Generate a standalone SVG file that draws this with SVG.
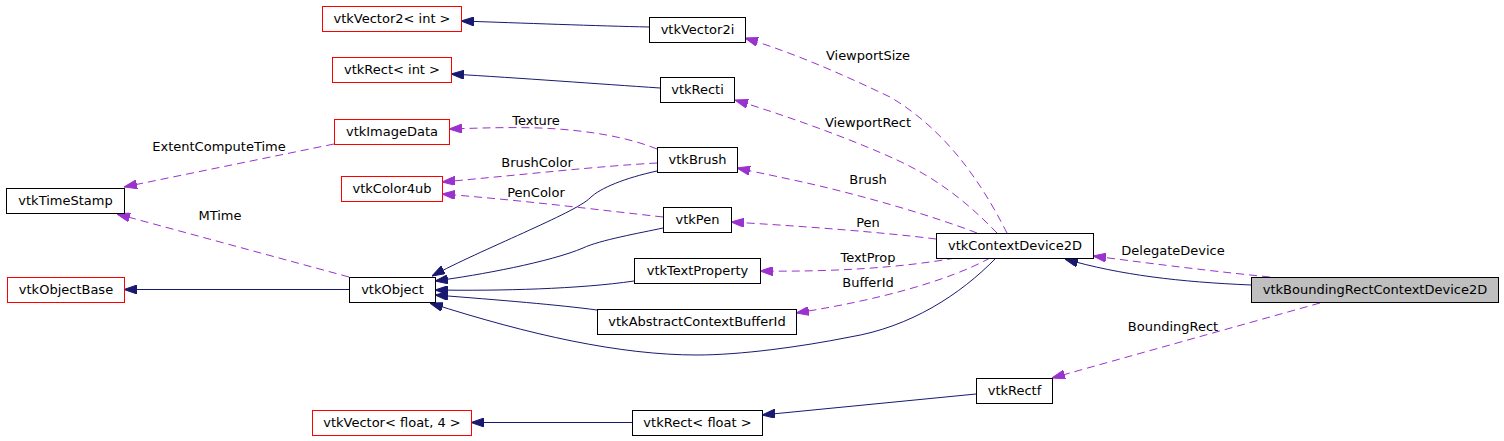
<svg xmlns="http://www.w3.org/2000/svg" width="1504" height="441" viewBox="0 0 1504 441">
<style>
  .node rect { fill: #ffffff; stroke: #000000; stroke-width: 1; }
  .node.ext rect { stroke: #ff0000; }
  .node.cur rect { fill: #bfbfbf; }
  text { font-family: "DejaVu Sans", "Liberation Sans", sans-serif; font-size: 13px; fill: #000000; }
  .node text { text-anchor: middle; }
  .lbl { text-anchor: middle; }
  .inh { fill: none; stroke: #191970; stroke-width: 1; marker-end: url(#ab); }
  .use { fill: none; stroke: #9a32cd; stroke-width: 1; stroke-dasharray: 8,5; marker-end: url(#ap); }
</style>
<defs>
  <marker id="ab" viewBox="0 0 13 9" refX="13" refY="4.5" markerWidth="13" markerHeight="9" markerUnits="userSpaceOnUse" orient="auto">
    <path d="M0,0 L13,4.5 L0,9 z" fill="#191970" stroke="#191970" stroke-width="1"/>
  </marker>
  <marker id="ap" viewBox="0 0 13 9" refX="13" refY="4.5" markerWidth="13" markerHeight="9" markerUnits="userSpaceOnUse" orient="auto">
    <path d="M0,0 L13,4.5 L0,9 z" fill="#9a32cd" stroke="#9a32cd" stroke-width="1"/>
  </marker>
</defs>
<rect x="0" y="0" width="1504" height="441" fill="#ffffff"/>

<g id="connectors">
  <path class="inh" d="M649,27 C600,26 520,23 461,21"/>
  <path class="inh" d="M660,88 C600,84 520,78 451,74"/>
  <path class="inh" d="M349,289.5 L124,289.5"/>
  <path class="inh" d="M657,171 C625,178 600,188 590,198 C575,213 480,250 432,276"/>
  <path class="inh" d="M663,228 C640,233 600,240 583,248 C550,262 480,275 435,281"/>
  <path class="inh" d="M634,281 C580,289 500,291 435,290"/>
  <path class="inh" d="M597,310 C560,305 500,300 435,295"/>
  <path class="inh" d="M996,258 C960,295 910,327 850,337 C800,347 740,355 697,355 C620,355 530,335 430,303"/>
  <path class="inh" d="M1251,285 C1180,282 1120,275 1065,259"/>
  <path class="inh" d="M976,394 L762,415"/>
  <path class="inh" d="M632,422.5 L471,422.5"/>

  <path class="use" d="M657,149 C630,138 590,130 540,128 C510,127 480,128 449,129"/>
  <path class="use" d="M657,163 C600,166 520,175 442,182"/>
  <path class="use" d="M663,217 C600,210 520,200 442,194"/>
  <path class="use" d="M334,144 L124,187"/>
  <path class="use" d="M349,277 L117,214"/>
  <path class="use" d="M1007,233 C990,200 955,135 890,97 C850,78 800,55 745,38"/>
  <path class="use" d="M997,233 C970,205 940,180 897,160 C860,143 800,120 735,100"/>
  <path class="use" d="M977,233 C930,215 870,198 820,186 C790,179 760,173 737,168"/>
  <path class="use" d="M936,239 C880,232 800,226 731,222"/>
  <path class="use" d="M955,258 C900,268 830,272 760,271"/>
  <path class="use" d="M990,258 C950,280 880,300 796,313"/>
  <path class="use" d="M1270,277 C1200,270 1140,262 1093,256"/>
  <path class="use" d="M1320,303 L1052,378"/>

  <text class="lbl" x="536" y="125">Texture</text>
  <text class="lbl" x="537" y="167">BrushColor</text>
  <text class="lbl" x="536" y="197">PenColor</text>
  <text class="lbl" x="219" y="151">ExtentComputeTime</text>
  <text class="lbl" x="220" y="220">MTime</text>
  <text class="lbl" x="868" y="60">ViewportSize</text>
  <text class="lbl" x="868" y="127">ViewportRect</text>
  <text class="lbl" x="868" y="184">Brush</text>
  <text class="lbl" x="868" y="227">Pen</text>
  <text class="lbl" x="868" y="262">TextProp</text>
  <text class="lbl" x="868" y="287">BufferId</text>
  <text class="lbl" x="1173" y="255">DelegateDevice</text>
  <text class="lbl" x="1173" y="331">BoundingRect</text>
</g>

<g id="vtkVector2_int" class="node ext"><rect x="322.5" y="6.5" width="139" height="25"/><text x="392" y="23">vtkVector2&lt; int &gt;</text></g>
<g id="vtkRect_int" class="node ext"><rect x="332.5" y="57.5" width="119" height="25"/><text x="392" y="74">vtkRect&lt; int &gt;</text></g>
<g id="vtkImageData" class="node ext"><rect x="334.5" y="119.5" width="115" height="25"/><text x="392" y="136">vtkImageData</text></g>
<g id="vtkColor4ub" class="node ext"><rect x="341.5" y="176.5" width="101" height="25"/><text x="392" y="193">vtkColor4ub</text></g>
<g id="vtkTimeStamp" class="node"><rect x="6.5" y="188.5" width="118" height="25"/><text x="65.5" y="205">vtkTimeStamp</text></g>
<g id="vtkObjectBase" class="node ext"><rect x="7.5" y="277.5" width="117" height="25"/><text x="66" y="294">vtkObjectBase</text></g>
<g id="vtkObject" class="node"><rect x="349.5" y="277.5" width="86" height="25"/><text x="392.5" y="294">vtkObject</text></g>
<g id="vtkVector_float_4" class="node ext"><rect x="312.5" y="410.5" width="159" height="25"/><text x="392" y="427">vtkVector&lt; float, 4 &gt;</text></g>
<g id="vtkVector2i" class="node"><rect x="649.5" y="17.5" width="96" height="25"/><text x="697.5" y="34">vtkVector2i</text></g>
<g id="vtkRecti" class="node"><rect x="660.5" y="77.5" width="74" height="25"/><text x="697.5" y="94">vtkRecti</text></g>
<g id="vtkBrush" class="node"><rect x="657.5" y="147.5" width="80" height="25"/><text x="697.5" y="164">vtkBrush</text></g>
<g id="vtkPen" class="node"><rect x="663.5" y="207.5" width="68" height="25"/><text x="697.5" y="224">vtkPen</text></g>
<g id="vtkTextProperty" class="node"><rect x="634.5" y="258.5" width="126" height="25"/><text x="697.5" y="275">vtkTextProperty</text></g>
<g id="vtkAbstractContextBufferId" class="node"><rect x="597.5" y="309.5" width="199" height="25"/><text x="697" y="326">vtkAbstractContextBufferId</text></g>
<g id="vtkRect_float" class="node"><rect x="632.5" y="410.5" width="130" height="25"/><text x="697.5" y="427">vtkRect&lt; float &gt;</text></g>
<g id="vtkRectf" class="node"><rect x="976.5" y="378.5" width="76" height="25"/><text x="1014.5" y="395">vtkRectf</text></g>
<g id="vtkContextDevice2D" class="node"><rect x="936.5" y="233.5" width="157" height="25"/><text x="1015" y="250">vtkContextDevice2D</text></g>
<g id="vtkBoundingRectContextDevice2D" class="node cur"><rect x="1251.5" y="277.5" width="247" height="25"/><text x="1375" y="294">vtkBoundingRectContextDevice2D</text></g>
</svg>
